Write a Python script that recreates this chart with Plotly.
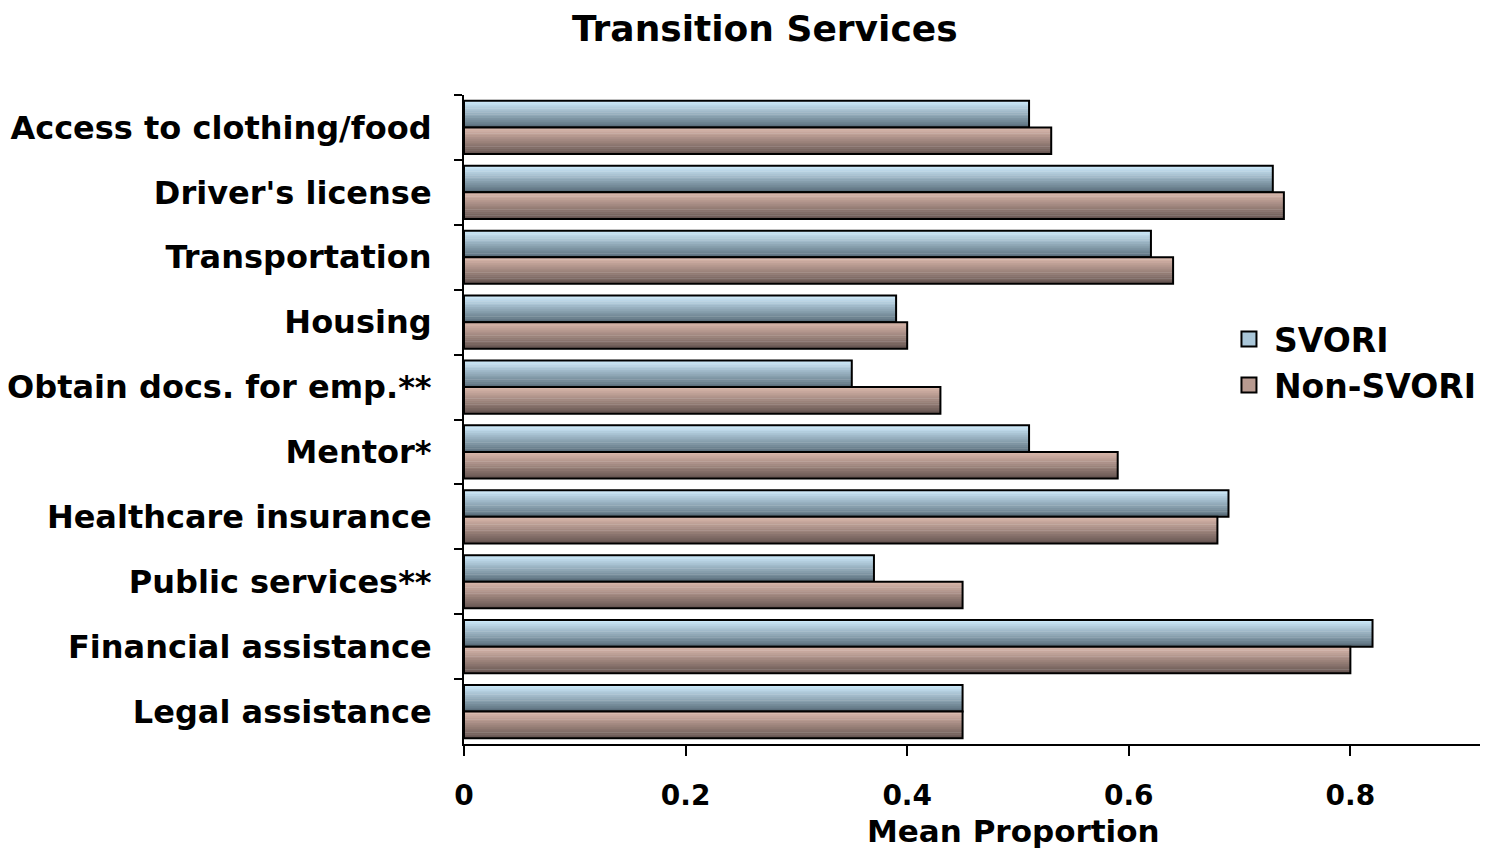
import plotly.graph_objects as go

categories = ["Access to clothing/food", "Driver's license", "Transportation", "Housing",
              "Obtain docs. for emp.**", "Mentor*", "Healthcare insurance",
              "Public services**", "Financial assistance", "Legal assistance"]
svori = [0.51, 0.73, 0.62, 0.39, 0.35, 0.51, 0.69, 0.37, 0.82, 0.45]
non_svori = [0.53, 0.74, 0.64, 0.40, 0.43, 0.59, 0.68, 0.45, 0.80, 0.45]
series_names = ["SVORI", "Non-SVORI"]
x_ticks = [0, 0.2, 0.4, 0.6, 0.8]
x_tick_labels = ["0", "0.2", "0.4", "0.6", "0.8"]

FONT = "DejaVu Sans"
BAR_W = 0.41
N_STRIPS = 14
# the page body adds an 8px margin, so the figure is sized to fit the window
W, H = 1481, 842

gradients = {
    "SVORI": ((204, 233, 250), (92, 112, 125)),
    "Non-SVORI": ((216, 182, 170), (104, 87, 83)),
}
mid_colors = {"SVORI": "#a9c6d8", "Non-SVORI": "#b89a90"}


def lerp(c1, c2, t):
    return "rgb(%d,%d,%d)" % tuple(round(a + (b - a) * t) for a, b in zip(c1, c2))


fig = go.Figure()
for name, vals, base in [("SVORI", svori, -BAR_W), ("Non-SVORI", non_svori, 0.0)]:
    top, bot = gradients[name]
    sw = BAR_W / N_STRIPS
    for k in range(N_STRIPS):
        t = k / (N_STRIPS - 1)
        fig.add_trace(go.Bar(
            x=vals, y=categories, orientation="h",
            offset=base + k * sw, width=sw * 1.2 if k < N_STRIPS - 1 else sw,
            marker=dict(color=lerp(top, bot, t), line=dict(width=0)),
            showlegend=False, legendgroup=name, hoverinfo="skip"))
    # outline
    fig.add_trace(go.Bar(
        x=vals, y=categories, orientation="h",
        offset=base, width=BAR_W,
        marker=dict(color="rgba(0,0,0,0)", line=dict(color="black", width=2)),
        showlegend=False, legendgroup=name, hovertemplate="%{y}: %{x}<extra>" + name + "</extra>"))
    # legend proxy
    fig.add_trace(go.Scatter(
        x=[None], y=[None], mode="markers", name=name, legendgroup=name,
        marker=dict(symbol="square", size=15, color=mid_colors[name],
                    line=dict(color="black", width=2)),
        showlegend=True))

fig.update_layout(
    width=W, height=H,
    paper_bgcolor="white", plot_bgcolor="white",
    barmode="overlay",
    margin=dict(l=456, r=9, t=87, b=106, autoexpand=False),
    font=dict(family=FONT, color="black"),
    title=dict(text="<b>Transition Services</b>", x=0.511, xanchor="center",
               yref="container", y=1 - 20 / H, yanchor="middle",
               font=dict(family=FONT, size=36, color="black")),
    legend=dict(x=0.748, y=0.667, xanchor="left", yanchor="top",
                bgcolor="rgba(0,0,0,0)", font=dict(family=FONT, size=33, color="black", weight="bold"),
                tracegroupgap=0, itemwidth=40),
    showlegend=True,
)
fig.update_yaxes(
    type="category", categoryorder="array", categoryarray=categories,
    autorange=False, range=[len(categories) - 0.5, -0.5], automargin=False,
    showline=True, linecolor="black", linewidth=2,
    ticks="outside", tickson="boundaries", ticklen=8, tickcolor="black", tickwidth=2,
    ticklabelstandoff=24,
    tickfont=dict(family=FONT, size=32, color="black", weight="bold"),
    showgrid=False, zeroline=False,
)
fig.update_xaxes(
    range=[0, 0.917], automargin=False,
    tickvals=x_ticks, ticktext=x_tick_labels,
    showline=True, linecolor="black", linewidth=2,
    ticks="outside", ticklen=10, tickcolor="black", tickwidth=2,
    ticklabelstandoff=15,
    tickfont=dict(family=FONT, size=28, color="black", weight="bold"),
    showgrid=False, zeroline=False,
)
fig.add_annotation(
    text="<b>Mean Proportion</b>", xref="x", x=0.496, yref="paper", y=-0.104,
    xanchor="center", yanchor="top", showarrow=False,
    font=dict(family=FONT, size=31, color="black"))

fig.write_html("out.html")
